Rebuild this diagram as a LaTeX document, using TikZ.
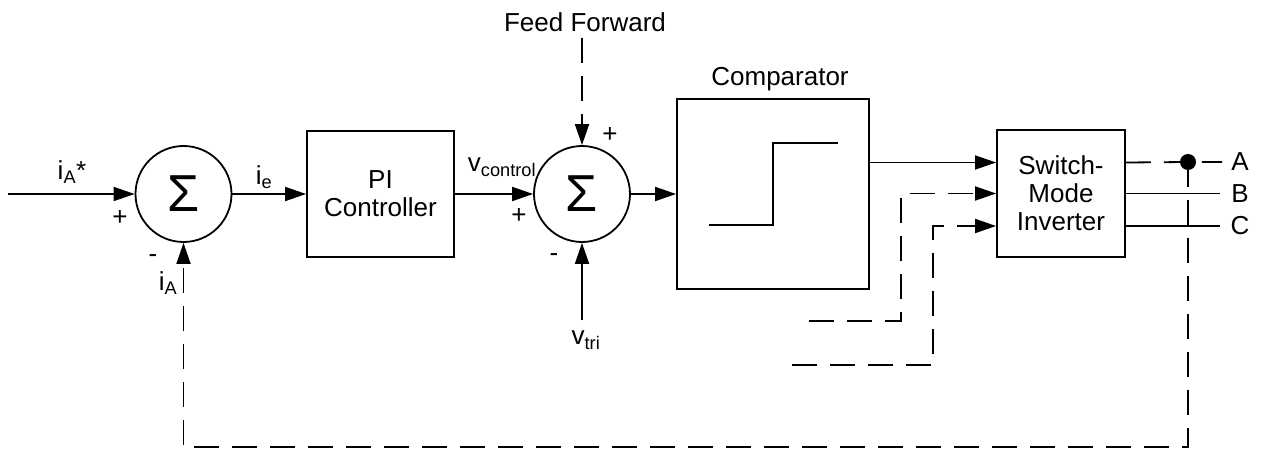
\documentclass[tikz,border=0pt]{standalone}
\usepackage{fontspec}
\setmainfont{Liberation Sans}
\usetikzlibrary{arrows.meta,calc}
\begin{document}
\begin{tikzpicture}[x=1pt,y=-1pt,
  every node/.style={font=\fontsize{26}{30}\selectfont, inner sep=0pt},
  ln/.style={line width=1.8pt},
  arr/.style={ln,-{Triangle[length=21pt,width=14pt]}},
  dsh/.style={dash pattern=on 25pt off 13pt},
  sumc/.style={draw, ln, circle, minimum size=96pt, font=\fontsize{52}{52}\selectfont},
  blk/.style={draw, ln, rectangle, align=center},
  lab/.style={}]
\useasboundingbox (0,0) rectangle (1261,449);
% blocks
\node[sumc] (s1) at (183.5,194) {Σ};
\node[sumc] (s2) at (582,194) {Σ};
\node[blk, minimum width=147pt, minimum height=126pt] (pi) at (380.5,194) {PI\\[-2pt]Controller};
\node[blk, minimum width=192pt, minimum height=190pt] (comp) at (773,194) {};
\node[blk, minimum width=128pt, minimum height=127pt] (sw) at (1061,193.5) {Switch-\\[-2pt]Mode\\[-2pt]Inverter};
% labels
\node[lab] (iAs) at (72,172) {i\textsubscript{A}*};
\node[lab] (p1) at (120,218) {+};
\node[lab] (m1) at (153,259) {-};
\node[lab] (iA) at (168,283) {i\textsubscript{A}};
\node[lab] (ie) at (264,177) {i\textsubscript{e}};
\node[lab] (vc) at (502,167) {v\textsubscript{control}};
\node[lab] (p2t) at (610,135) {+};
\node[lab] (p2l) at (519,216) {+};
\node[lab] (m2) at (554,258) {-};
\node[lab] (vtri) at (586,340) {v\textsubscript{tri}};
\node[lab] (ff) at (585,22) {Feed Forward};
\node[lab] (complab) at (780,79) {Comparator};
\node[lab] (A) at (1240,162) {A};
\node[lab] (B) at (1240,193.5) {B};
\node[lab] (C) at (1240,226) {C};
% comparator symbol
\coordinate (st1) at (709,225);
\coordinate (st2) at (773,225);
\coordinate (st3) at (773,143);
\coordinate (st4) at (838,143);
\draw[ln] (st1) -- (st2) -- (st3) -- (st4);
% coordinates
\coordinate (in) at (8,194);
\coordinate (swA) at ($(sw.west)+(0,-31)$);
\coordinate (swB) at (sw.west);
\coordinate (swC) at ($(sw.west)+(0,32.5)$);
\coordinate (bstart) at (809,321);
\coordinate (bcorner) at (901,321);
\coordinate (cstart) at (792,365);
\coordinate (ccorner) at (933,365);
\coordinate (dot) at (1188,162);
\coordinate (Aend) at (1222,162);
\coordinate (Bend) at (1220,193.5);
\coordinate (Cend) at (1220,226);
\coordinate (fbl) at (183.5,447);
\coordinate (vtrit) at (582,320);
\coordinate (fft) at (582,38);
% connectors
\draw[arr] (in) -- (s1.west);
\draw[arr] (s1.east) -- (pi.west);
\draw[arr] (pi.east) -- (s2.west);
\draw[arr] (s2.east) -- (comp.west);
\draw[arr,dsh] (fft) -- (s2.north);
\draw[arr] (vtrit) -- (s2.south);
\draw[arr] (comp.east |- swA) -- (swA);
\draw[arr,dsh] (bstart) -- (bcorner) |- (swB);
\draw[arr,dsh] (cstart) -- (ccorner) |- (swC);
\draw[ln,dsh] (sw.east |- swA) -- (dot) -- (Aend);
\draw[ln] (sw.east) -- (Bend);
\draw[ln] (sw.east |- swC) -- (Cend);
\draw[arr,dsh] (dot) |- (fbl) -- (s1.south);
\fill (dot) circle (8pt);
\end{tikzpicture}
\end{document}
